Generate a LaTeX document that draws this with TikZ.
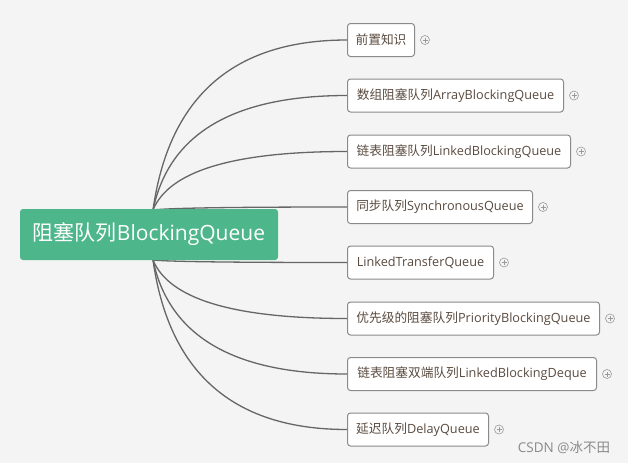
\documentclass[tikz,border=0pt]{standalone}
\usepackage{fontspec}
\setmainfont{Open Sans}
\newfontfamily\cjk{Noto Sans CJK SC}
\usetikzlibrary{calc}
\definecolor{bgc}{HTML}{F4F4F4}
\definecolor{rootc}{HTML}{4DB68A}
\definecolor{txtc}{HTML}{5A4B40}
\definecolor{bordc}{HTML}{8A8A8A}
\definecolor{linec}{HTML}{666666}
\definecolor{plusc}{HTML}{999999}
\definecolor{wmc}{HTML}{8A8A8A}
\tikzset{
  rootbox/.style={fill=rootc, rounded corners=3pt, text=white, font=\fontsize{21}{25}\selectfont,
    minimum width=258pt, minimum height=51pt, inner sep=0pt},
  childbox/.style={draw=bordc, line width=1pt, fill=white, rounded corners=3pt, text=txtc,
    font=\fontsize{12.7}{15}\selectfont, minimum height=33pt, inner sep=0pt, anchor=west},
  plusicon/.style={circle, draw=plusc, line width=0.6pt, minimum size=9pt, inner sep=0pt,
    path picture={\draw[plusc, line width=0.6pt]
      ([xshift=-2.5pt]path picture bounding box.center) -- ([xshift=2.5pt]path picture bounding box.center)
      ([yshift=-2.5pt]path picture bounding box.center) -- ([yshift=2.5pt]path picture bounding box.center);}},
  conn/.style={draw=linec, line width=1.3pt},
  branch/.style={
    to path={let \p1=(\tikztostart), \p2=(\tikztotarget) in
      .. controls (\x1+0.08*\x2-0.08*\x1, \y1+0.65*\y2-0.65*\y1) and (\x1+0.4*\x2-0.4*\x1, \y2) .. (\tikztotarget)}},
}
\begin{document}
\begin{tikzpicture}[x=1pt,y=-1pt]
\fill[bgc] (0,0) rectangle (628,463);
\useasboundingbox (0,0) rectangle (628,463);

\coordinate (top) at (153,210);
\coordinate (bot) at (153,260);

\node[childbox, minimum width=67pt]  (c1) at (347,40)    {{\cjk 前置知识}};
\node[childbox, minimum width=216pt] (c2) at (347,95.5)  {{\cjk 数组阻塞队列}ArrayBlockingQueue};
\node[childbox, minimum width=223pt] (c3) at (347,151.5) {{\cjk 链表阻塞队列}LinkedBlockingQueue};
\node[childbox, minimum width=185pt] (c4) at (347,207)   {{\cjk 同步队列}SynchronousQueue};
\node[childbox, minimum width=146pt] (c5) at (347,262.5) {LinkedTransferQueue};
\node[childbox, minimum width=252pt] (c6) at (347,318.5) {{\cjk 优先级的阻塞队列}PriorityBlockingQueue};
\node[childbox, minimum width=249pt] (c7) at (347,374)   {{\cjk 链表阻塞双端队列}LinkedBlockingDeque};
\node[childbox, minimum width=141pt] (c8) at (347,429.5) {{\cjk 延迟队列}DelayQueue};

\foreach \i in {1,2,3,4}{\draw[conn] (top) to[branch] (c\i.west);}
\foreach \i in {5,6,7,8}{\draw[conn] (bot) to[branch] (c\i.west);}

\node[rootbox] (root) at (149,234.5) {{\cjk 阻塞队列}BlockingQueue};

\foreach \i in {1,...,8}{\node[plusicon] (p\i) at ([xshift=10pt]c\i.east) {};}

\node[text=wmc, font=\fontsize{13.5}{15}\selectfont] (wm) at (564,447) {CSDN @{\cjk 冰不田}};
\end{tikzpicture}
\end{document}
